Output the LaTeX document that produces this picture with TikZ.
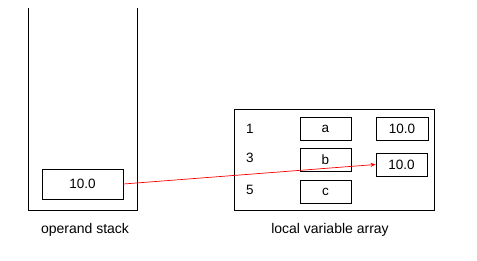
\documentclass[tikz,border=0pt]{standalone}
\usepackage{fontspec}
\setmainfont{Liberation Sans}
\usetikzlibrary{arrows.meta}
\begin{document}
\begin{tikzpicture}[x=1pt,y=-1pt,
  cell/.style={draw,line width=0.9pt,minimum width=#1,minimum height=23pt,inner sep=0pt,font=\fontsize{13.5}{15}\selectfont},
  lbl/.style={inner sep=0pt,font=\fontsize{14}{16}\selectfont},
  idx/.style={inner sep=0pt,font=\fontsize{13.5}{15}\selectfont}]
\useasboundingbox (0,0) rectangle (477,261);
% operand stack
\draw[line width=0.9pt] (28.5,8) -- (28.5,210) -- (137.5,210) -- (137.5,8);
\node[cell=81pt,minimum height=30pt] (s) at (82.5,184) {10.0};
\node[lbl] (sl) at (85,230) {operand stack};
% local variable array
\node[draw,line width=0.9pt,minimum width=200pt,minimum height=101pt,inner sep=0pt] (arr) at (334,159.5) {};
\node[idx] (i1) at (250,129) {1};
\node[idx] (i3) at (250,158) {3};
\node[idx] (i5) at (250,190) {5};
\node[cell=51pt] (a) at (325.5,128.5) {a};
\node[cell=51pt] (b) at (325.5,159.5) {b};
\node[cell=51pt] (c) at (325.5,191.5) {c};
\node[cell=52pt] (v1) at (402,128.5) {10.0};
\node[cell=51pt] (v2) at (401.5,164.5) {10.0};
\node[lbl] (al) at (330,230) {local variable array};
\draw[red,line width=0.7pt,-{Stealth[length=5pt,width=4pt]}] (s.east) -- (v2.west);
\end{tikzpicture}
\end{document}
